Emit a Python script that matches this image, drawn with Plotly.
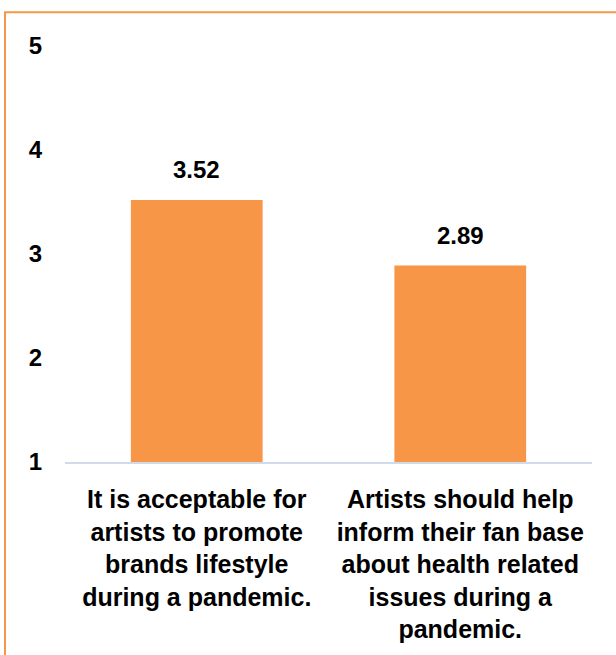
import plotly.graph_objects as go

categories = [
    "It is acceptable for<br>artists to promote<br>brands lifestyle<br>during a pandemic.",
    "Artists should help<br>inform their fan base<br>about health related<br>issues during a<br>pandemic.",
]
values = [3.52, 2.89]
value_labels = ["3.52", "2.89"]
y_ticks = [1, 2, 3, 4, 5]

BAR = "#F79646"
FONT = "Liberation Sans"

fig = go.Figure()
fig.add_trace(go.Bar(
    x=categories, y=values, base=0,
    marker=dict(color=BAR, line=dict(width=0)),
    hoverinfo="skip",
))

for c, v, t in zip(categories, values, value_labels):
    fig.add_annotation(x=c, y=v, text=f"<b>{t}</b>", showarrow=False,
                       yshift=30, yanchor="middle",
                       font=dict(family=FONT, size=24, color="#000"))

W, H = 616, 655
ml, mr, mt, mb = 65, 24, 46, 191
pw, ph = W - ml - mr, H - mt - mb
# border in paper coords (left/top visible, right/bottom cut off)
fig.add_shape(type="rect", xref="paper", yref="paper",
              x0=(5 - ml) / pw, x1=(W + 5 - ml) / pw,
              y0=-(H + 5 - mt - ph) / ph, y1=(mt - 12) / ph + 1,
              line=dict(color=BAR, width=2), fillcolor="rgba(0,0,0,0)", layer="below")

fig.update_layout(
    width=W, height=H,
    margin=dict(l=ml, r=mr, t=mt, b=mb, pad=0),
    paper_bgcolor="white", plot_bgcolor="white",
    showlegend=False,
    bargap=0.5,
    font=dict(family=FONT, size=24, color="#000"),
)
fig.update_yaxes(range=[1, 5], tickvals=y_ticks,
                 ticktext=[f"<b>{t}</b>" for t in y_ticks],
                 showgrid=False, zeroline=False, showline=False,
                 ticks="", ticklabelstandoff=22,
                 tickfont=dict(family=FONT, size=24, color="#000"))
fig.update_xaxes(tickvals=categories,
                 ticktext=[f"<b>{c}</b>" for c in categories],
                 showgrid=False, zeroline=False,
                 showline=True, linecolor="#D0DBE9", linewidth=2,
                 ticks="", ticklabelstandoff=14, tickangle=0,
                 tickfont=dict(family=FONT, size=25, color="#000"))

fig.write_html("out.html")
